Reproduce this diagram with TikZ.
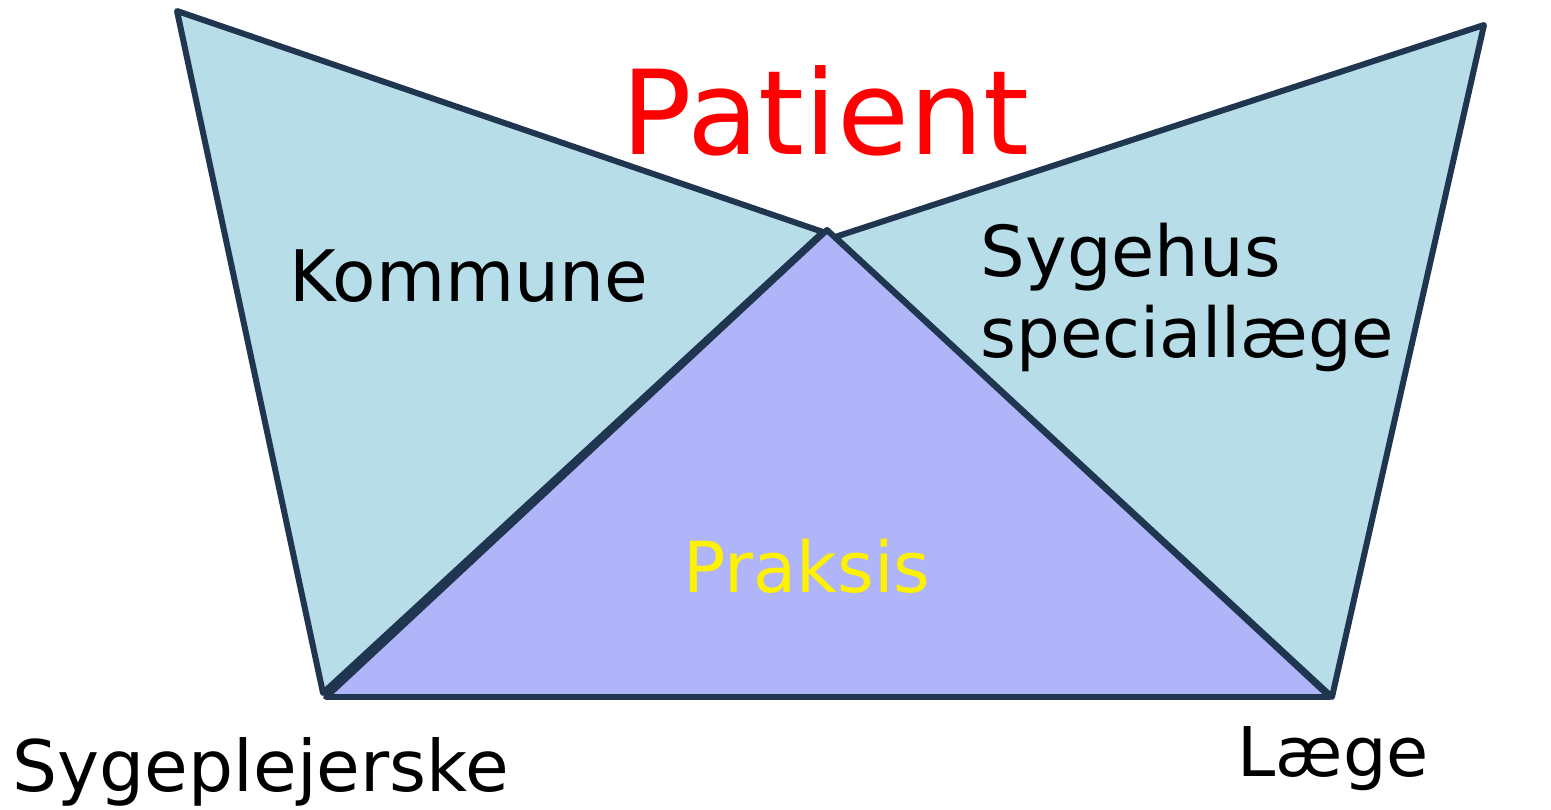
\documentclass[tikz,border=0pt]{standalone}
\usepackage{fontspec}
\setmainfont{DejaVu Sans}
\definecolor{edge}{HTML}{1F3550}
\definecolor{lblue}{HTML}{B7DDE8}
\definecolor{lpurple}{HTML}{B0B4F8}
\begin{document}
\begin{tikzpicture}[x=0.01cm,y=-0.01cm,
  tri/.style={draw=edge,line width=1.7pt,line join=round},
  lbl/.style={inner sep=0pt,anchor=base west,text=black}]
\useasboundingbox (0,0) rectangle (1551,810);
% left triangle
\coordinate (LT) at (177,11);
\coordinate (LA) at (823,232);
\coordinate (LB) at (323,693);
% right triangle
\coordinate (RT) at (1484,25);
\coordinate (RA) at (835,237);
\coordinate (RB) at (1332,697);
% middle triangle
\coordinate (MA) at (827,230);
\coordinate (ML) at (326,697);
\coordinate (MR) at (1330,697);
\filldraw[tri,fill=lblue] (LT) -- (LA) -- (LB) -- cycle;
\filldraw[tri,fill=lblue] (RA) -- (RT) -- (RB) -- cycle;
\filldraw[tri,fill=lpurple] (MA) -- (MR) -- (ML) -- cycle;
\node[lbl,text=red,font=\fontsize{33.3}{40}\selectfont] (patient) at (621,155) {Patient};
\node[lbl,font=\fontsize{20.2}{24}\selectfont] (kommune) at (289,302) {Kommune};
\node[lbl,font=\fontsize{20}{24}\selectfont] (sygehus) at (980,277) {Sygehus};
\node[lbl,font=\fontsize{19.6}{24}\selectfont] (special) at (980,358) {speciallæge};
\node[lbl,text=yellow,font=\fontsize{20}{24}\selectfont] (praksis) at (683,593) {Praksis};
\node[lbl,font=\fontsize{20.2}{24}\selectfont] (sygepl) at (12,792) {Sygeplejerske};
\node[lbl,font=\fontsize{19.5}{23}\selectfont] (laege) at (1237,777) {Læge};
\end{tikzpicture}
\end{document}
